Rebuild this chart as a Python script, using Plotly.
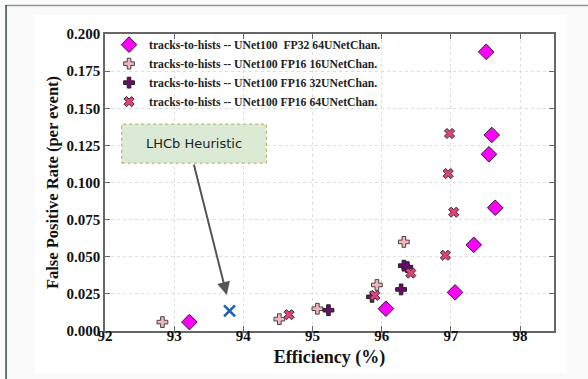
import plotly.graph_objects as go

# ---- data ----
fp32_64_eff = [97.51, 97.59, 97.55, 97.64, 97.33, 97.06, 96.06, 93.22]
fp32_64_fpr = [0.188, 0.132, 0.119, 0.083, 0.058, 0.026, 0.015, 0.006]

fp16_16_eff = [92.83, 94.52, 95.07, 95.93, 96.32]
fp16_16_fpr = [0.006, 0.008, 0.015, 0.031, 0.060]

fp16_32_eff = [95.23, 95.86, 96.28, 96.32, 96.37]
fp16_32_fpr = [0.014, 0.023, 0.028, 0.044, 0.043]

fp16_64_eff = [96.98, 96.96, 97.04, 96.92, 96.42, 95.90, 94.66]
fp16_64_fpr = [0.133, 0.106, 0.080, 0.051, 0.039, 0.024, 0.011]

lhcb_eff = [93.80]
lhcb_fpr = [0.0136]

names = [
    "tracks-to-hists -- UNet100  FP32 64UNetChan.",
    "tracks-to-hists -- UNet100 FP16 16UNetChan.",
    "tracks-to-hists -- UNet100 FP16 32UNetChan.",
    "tracks-to-hists -- UNet100 FP16 64UNetChan.",
]
y_ticks = [0.0, 0.025, 0.05, 0.075, 0.1, 0.125, 0.15, 0.175, 0.2]
x_ticks = [92, 93, 94, 95, 96, 97, 98]

W, H = 588, 379
L, R, T, B = 105.3, 553.7, 34.0, 330.7

serif = "Liberation Serif"

fig = go.Figure()
fig.add_trace(go.Scatter(x=fp32_64_eff, y=fp32_64_fpr, mode="markers", name=names[0],
                         marker=dict(symbol="diamond", size=12, color="#ff00ff",
                                     line=dict(color="#222", width=1))))
fig.add_trace(go.Scatter(x=fp16_16_eff, y=fp16_16_fpr, mode="markers", name=names[1],
                         marker=dict(symbol="cross", size=9, color="#f4b4bc",
                                     line=dict(color="#444", width=1))))
fig.add_trace(go.Scatter(x=fp16_32_eff, y=fp16_32_fpr, mode="markers", name=names[2],
                         marker=dict(symbol="cross", size=9, color="#6e0a6e",
                                     line=dict(color="#222", width=1))))
fig.add_trace(go.Scatter(x=fp16_64_eff, y=fp16_64_fpr, mode="markers", name=names[3],
                         marker=dict(symbol="x", size=9, color="#e2407c",
                                     line=dict(color="#333", width=1))))
fig.add_trace(go.Scatter(x=lhcb_eff, y=lhcb_fpr, mode="markers", name="LHCb Heuristic",
                         showlegend=False,
                         marker=dict(symbol="x-thin-open", size=11, color="#1f5fb4",
                                     line=dict(color="#1f5fb4", width=2.5))))

def px(xp):
    return (xp - L) / (R - L)

def py(yp):
    return (B - yp) / (B - T)

shapes = [
    # page background frame
    dict(type="rect", xref="paper", yref="paper", x0=px(35), x1=px(566), y0=py(373), y1=py(15),
         fillcolor="white", line=dict(width=0), layer="below"),
    dict(type="line", xref="paper", yref="paper", x0=px(6), x1=px(588), y0=py(5.5), y1=py(5.5),
         line=dict(color="#8c9696", width=1.5)),
    dict(type="line", xref="paper", yref="paper", x0=px(6.5), x1=px(6.5), y0=py(379), y1=py(5),
         line=dict(color="#3a4a4a", width=1.5)),
    # annotation box
    dict(type="rect", xref="paper", yref="paper", x0=px(122), x1=px(266.5), y0=py(163), y1=py(124),
         fillcolor="#dbead4", line=dict(color="#b8a84a", width=1, dash="dot")),
]

annotations = [
    dict(x=93.76, y=0.0242, xref="x", yref="y", ax=93.28, ay=0.1129, axref="x", ayref="y",
         showarrow=True, arrowhead=2, arrowsize=1.3, arrowwidth=2, arrowcolor="#555", text=""),
    dict(x=px(194.4), y=py(143.5), xref="paper", yref="paper", text="LHCb Heuristic",
         xanchor="center", yanchor="middle",
         showarrow=False, font=dict(family="DejaVu Sans", size=13, color="#222")),
]

fig.update_layout(
    width=W, height=H,
    margin=dict(l=L, r=W - R, t=T, b=H - B, pad=0),
    paper_bgcolor="#fafafa", plot_bgcolor="white",
    showlegend=True,
    legend=dict(x=0.009, y=1.013, xanchor="left", yanchor="top", bgcolor="rgba(0,0,0,0)",
                font=dict(family=serif, size=11.7, color="#222", weight="bold"),
                borderwidth=0, itemsizing="trace"),
    shapes=shapes, annotations=annotations,
    xaxis=dict(range=[92, 98.49], tickvals=x_ticks, ticktext=[str(v) for v in x_ticks],
               showline=True, linecolor="#666", linewidth=1.5, mirror="ticks",
               ticks="inside", ticklen=5, tickcolor="#666",
               showgrid=True, gridcolor="#dedede", griddash="dot", gridwidth=1,
               zeroline=False, ticklabelstandoff=-10,
               tickfont=dict(family=serif, size=15, color="#111", weight="bold"),
               title=dict(text="Efficiency (%)", standoff=8,
                          font=dict(family=serif, size=18, color="#111", weight="bold"))),
    yaxis=dict(range=[0, 0.2], tickvals=y_ticks, ticktext=["%.3f" % v for v in y_ticks],
               showline=True, linecolor="#666", linewidth=1.5, mirror="ticks",
               ticks="inside", ticklen=5, tickcolor="#666",
               showgrid=True, gridcolor="#dedede", griddash="dot", gridwidth=1,
               zeroline=False,
               tickfont=dict(family=serif, size=15, color="#111", weight="bold"),
               title=dict(text="False Positive Rate (per event)", standoff=4,
                          font=dict(family=serif, size=16.5, color="#111", weight="bold"))),
)

fig.write_html("out.html", config={"displayModeBar": False},
               post_script="document.body.style.margin='0';document.body.style.overflow='hidden';")
